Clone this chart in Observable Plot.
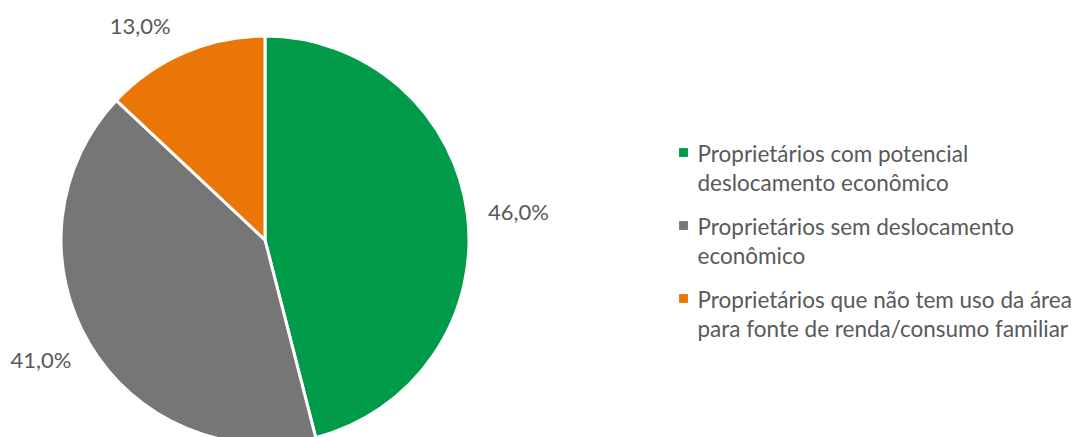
<!DOCTYPE html>
<html><head><meta charset="utf-8">
<script src="https://cdn.jsdelivr.net/npm/d3@7"></script>
<script src="https://cdn.jsdelivr.net/npm/@observablehq/plot@0.6"></script>
<style>body{margin:0;background:#fff} svg{display:block}</style>
</head><body><div id="chart"></div>
<script>
// ---- data ----
const categories = [
  "Proprietários com potencial deslocamento econômico",
  "Proprietários sem deslocamento econômico",
  "Proprietários que não tem uso da área para fonte de renda/consumo familiar"
];
const values = [46.0, 41.0, 13.0];
const legendLabels = [
  "Proprietários com potencial\ndeslocamento econômico",
  "Proprietários sem deslocamento\neconômico",
  "Proprietários que não tem uso da área\npara fonte de renda/consumo familiar"
];
const colors = ["#009B48", "#767676", "#E97606"];

// ---- layout ----
const W = 1072, H = 437;
const cx = 265, cy = 240, R = 204, labelR = 255;
const labelNudge = [[0, 4], [-5, -9], [-24, 20]];
const legendX = 697, legendDotX = 683, legendTop = 166.5, legendStep = 73;
const font = "Lato, 'Open Sans', sans-serif";
const textColor = "#595959";
const fsLegend = 22.5;
const fsLabel = 22;

const rows = categories.map((c, i) => ({
  category: c, value: values[i], legend: legendLabels[i],
  label: d3.format(".1f")(values[i]).replace(".", ",") + "%"
}));
const arcs = d3.pie().sort(null).value(d => d.value)(rows);
const labelRows = arcs.map((a, i) => {
  const m = (a.startAngle + a.endAngle) / 2;
  return {
    label: a.data.label,
    x: cx + labelR * Math.sin(m) + labelNudge[i][0],
    y: cy - labelR * Math.cos(m) + labelNudge[i][1]
  };
});
const legendRows = rows.map((r, i) => ({...r, x: legendX, dx: legendDotX, y: legendTop + i * legendStep}));

function pieMark(a, b) {
  const scales = (a && a.color) ? a : b;
  const arcGen = d3.arc().innerRadius(0).outerRadius(R);
  const g = d3.create("svg:g");
  const X = scales.x(cx), Y = scales.y(cy);
  g.selectAll("path").data(arcs).join("path")
    .attr("transform", `translate(${X},${Y})`)
    .attr("d", arcGen)
    .attr("fill", d => scales.color(d.data.category))
    .attr("stroke", "#fff")
    .attr("stroke-width", 3)
    .attr("stroke-linejoin", "miter");
  return g.node();
}

const chart = Plot.plot({
  width: W, height: H,
  margin: 0,
  style: {fontFamily: font, background: "#fff"},
  x: {domain: [0, W], range: [0, W], axis: null},
  y: {domain: [0, H], range: [0, H], axis: null},
  color: {domain: categories, range: colors},
  marks: [
    pieMark,
    Plot.text(labelRows, {x: "x", y: "y", text: "label", fill: textColor, fontSize: fsLabel, textAnchor: "middle"}),
    Plot.dot(legendRows, {x: "dx", y: d => d.y - 14.5, fill: "category", symbol: "square", r: 5}),
    Plot.text(legendRows, {x: "x", y: "y", text: "legend", fill: textColor, fontSize: fsLegend, textAnchor: "start", lineAnchor: "middle", lineHeight: 29 / fsLegend})
  ]
});
document.getElementById("chart").appendChild(chart);
</script>
</body></html>
